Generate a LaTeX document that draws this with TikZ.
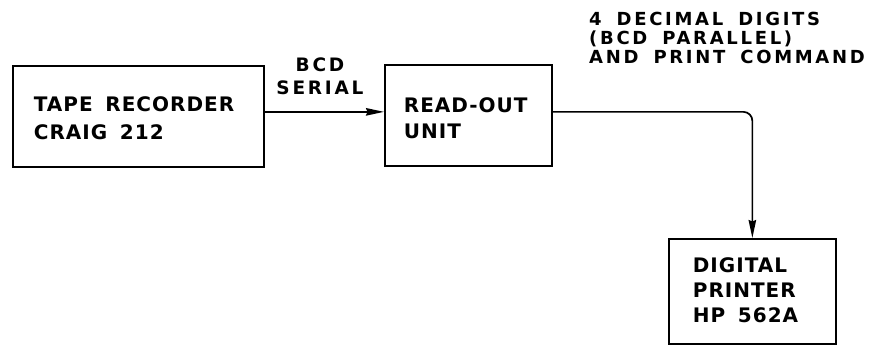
\documentclass[tikz,border=0pt]{standalone}
\usepackage{fontspec}
\setmainfont{DejaVu Sans}[LetterSpace=5]
\newfontfamily\tagfont{DejaVu Sans}[LetterSpace=15]
\newcommand{\wgap}{\hspace{6pt}}
\usetikzlibrary{arrows.meta, positioning}
\tikzset{
  unitbox/.style={draw, line width=1.7pt, align=left, anchor=north west,
    font={\bfseries\fontsize{20}{26}\selectfont}},
  sigline/.style={line width=1.7pt, -{Stealth[length=18pt, width=7.5pt, inset=1.5pt]}},
  siglabel/.style={inner sep=0pt, font={\tagfont\bfseries\fontsize{18}{19}\selectfont}}
}

\begin{document}
\begin{tikzpicture}[x=1pt, y=1pt]
  \useasboundingbox (0,0) rectangle (869,-345);
  % the three units
  \node[unitbox, minimum width=251pt, minimum height=101pt, inner xsep=21pt,
    text width=209pt, text height=19pt, font={\bfseries\fontsize{20}{28}\selectfont}] (tape) at (12,-65)
    {TAPE \wgap RECORDER\\CRAIG \wgap 212};
  \node[unitbox, minimum width=167pt, minimum height=101pt, inner xsep=19pt,
    text width=129pt, text height=20pt] (read) at (384,-64)
    {READ-OUT\\UNIT};
  \node[unitbox, minimum width=167pt, minimum height=105pt, inner xsep=24pt,
    text width=119pt, text depth=53pt, font={\bfseries\fontsize{20}{25}\selectfont}] (print) at (668,-238)
    {DIGITAL\\PRINTER\\HP \wgap 562A};
  % signal paths
  \coordinate (serialout) at ([yshift=4.5pt]tape.east);
  \draw[sigline] (serialout) -- (serialout -| read.west);
  \node[siglabel, align=center, anchor=south, font={\tagfont\bfseries\fontsize{18.5}{23}\selectfont}] (serial) at (320,-95)
    {BCD\\SERIAL};
  \draw[sigline, rounded corners=9pt] (serialout -| read.east) -| (print.north);
  \node[siglabel, align=left, anchor=north west] (digits) at (589,-11.5)
    {4 \wgap DECIMAL \wgap DIGITS\\(BCD \wgap PARALLEL)\\AND \wgap PRINT \wgap COMMAND};
\end{tikzpicture}
\end{document}
